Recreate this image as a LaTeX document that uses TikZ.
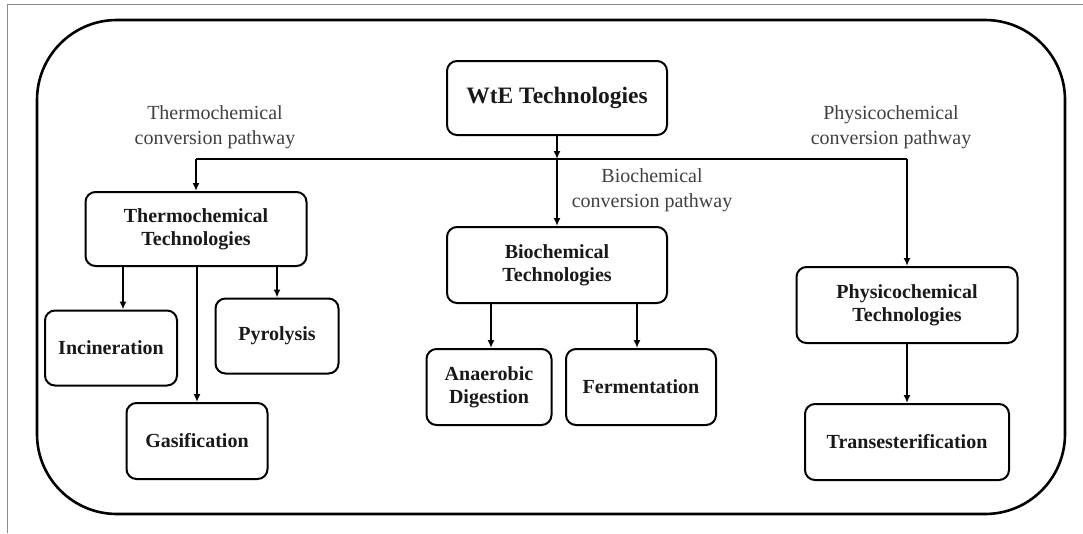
\documentclass[tikz,border=0pt]{standalone}
\usepackage{fontspec}
\setmainfont{Liberation Serif}
\usetikzlibrary{arrows.meta}
\begin{document}
\begin{tikzpicture}[x=1pt, y=-1pt,
    tech/.style={draw, rounded corners=10pt, line width=2pt, align=center, inner sep=0pt, text=black!90, font=\fontsize{20}{23}\selectfont\bfseries},
    pathlabel/.style={align=center, text=black!75, font=\fontsize{20}{25}\selectfont},
    flow/.style={line width=1.8pt, -{Latex[length=8pt,width=7pt]}}]
    \useasboundingbox (0,0) rectangle (1083,533);

    % Rahmen
    \draw[black!45, line width=1pt] (7,533) -- (7,4) -- (1083,4);
    \draw[line width=2.6pt, rounded corners=80pt] (37,20) rectangle (1065,514);

    % Technologien
    \node[tech, minimum width=220pt, minimum height=74pt, font=\fontsize{23.5}{28}\selectfont\bfseries] (wte) at (557,98) {WtE Technologies};
    \node[tech, minimum width=221pt, minimum height=74pt] (thermo) at (196,229) {Thermochemical\\Technologies};
    \node[tech, minimum width=220pt, minimum height=76pt] (bio) at (557,265) {Biochemical\\Technologies};
    \node[tech, minimum width=221pt, minimum height=76pt] (physico) at (907,305) {Physicochemical\\Technologies};

    \node[tech, minimum width=132pt, minimum height=75pt] (incin) at (111,348) {Incineration};
    \node[tech, minimum width=123pt, minimum height=75pt] (pyro) at (277,336) {Pyrolysis};
    \node[tech, minimum width=141pt, minimum height=76pt] (gasif) at (197,441) {Gasification};
    \node[tech, minimum width=125pt, minimum height=76pt] (anaer) at (489,387) {Anaerobic\\Digestion};
    \node[tech, minimum width=150pt, minimum height=76pt] (ferm) at (641,387) {Fermentation};
    \node[tech, minimum width=204pt, minimum height=76pt] (trans) at (907,442) {Transesterification};

    % Pfade
    \node[pathlabel] (thermolbl) at (215,127) {Thermochemical\\conversion pathway};
    \node[pathlabel] (biolbl) at (652,190) {Biochemical\\conversion pathway};
    \node[pathlabel] (physlbl) at (891,127) {Physicochemical\\conversion pathway};

    \coordinate (jl) at (196,159);
    \coordinate (jm) at (557,159);
    \coordinate (jr) at (907,159);

    % Pfeile
    \draw[flow] (wte) -- (jm);
    \draw[line width=1.8pt] (jl) -- (jr);
    \draw[flow] (jl) -- (thermo);
    \draw[flow] (jm) -- (bio);
    \draw[flow] (jr) -- (physico);

    \draw[flow] ([xshift=12pt]incin.north |- thermo.south) -- ([xshift=12pt]incin.north);
    \draw[flow] (gasif |- thermo.south) -- (gasif);
    \draw[flow] (pyro |- thermo.south) -- (pyro);
    \draw[flow] ([xshift=2pt]anaer.north |- bio.south) -- ([xshift=2pt]anaer.north);
    \draw[flow] ([xshift=-4pt]ferm.north |- bio.south) -- ([xshift=-4pt]ferm.north);
    \draw[flow] (physico) -- (trans);
\end{tikzpicture}
\end{document}
